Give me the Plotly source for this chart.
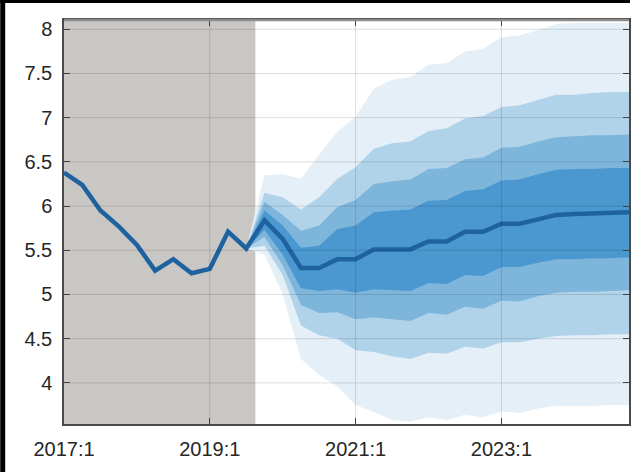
import plotly.graph_objects as go

# quarterly periods 2017:1 .. 2024:4
quarters = [f"{y}:{q}" for y in range(2017, 2025) for q in range(1, 5)]

history = [6.38, 6.24, 5.95, 5.77, 5.56, 5.27, 5.40, 5.24, 5.29, 5.71, 5.52]

# forecast starts at the last observed quarter (2019:3)
median = [5.52, 5.84, 5.63, 5.30, 5.30, 5.40, 5.40, 5.51, 5.51, 5.51, 5.60,
          5.60, 5.71, 5.71, 5.80, 5.80, 5.85, 5.90, 5.91, 5.92, 5.92, 5.93]

band1_hi = [5.52, 5.95, 5.78, 5.53, 5.55, 5.74, 5.78, 5.93, 5.95, 5.96, 6.06,
            6.07, 6.17, 6.19, 6.29, 6.30, 6.36, 6.41, 6.42, 6.42, 6.43, 6.43]
band1_lo = [5.52, 5.73, 5.45, 5.07, 5.04, 5.06, 5.02, 5.06, 5.05, 5.04, 5.13,
            5.12, 5.22, 5.21, 5.31, 5.31, 5.36, 5.40, 5.40, 5.41, 5.41, 5.42]
band2_hi = [5.52, 6.05, 5.90, 5.72, 5.78, 5.99, 6.07, 6.25, 6.28, 6.30, 6.42,
            6.43, 6.53, 6.55, 6.66, 6.67, 6.73, 6.78, 6.79, 6.80, 6.80, 6.81]
band2_lo = [5.52, 5.65, 5.33, 4.88, 4.79, 4.80, 4.72, 4.74, 4.72, 4.70, 4.79,
            4.77, 4.86, 4.84, 4.93, 4.92, 4.98, 5.02, 5.03, 5.03, 5.04, 5.05]
band3_hi = [5.52, 6.15, 6.10, 5.96, 6.10, 6.31, 6.44, 6.65, 6.71, 6.73, 6.85,
            6.88, 6.99, 7.02, 7.12, 7.14, 7.20, 7.26, 7.26, 7.28, 7.29, 7.29]
band3_lo = [5.52, 5.55, 5.22, 4.65, 4.54, 4.50, 4.37, 4.35, 4.30, 4.27, 4.34,
            4.33, 4.41, 4.39, 4.46, 4.46, 4.50, 4.53, 4.54, 4.54, 4.55, 4.55]
band4_hi = [5.52, 6.35, 6.36, 6.31, 6.58, 6.84, 7.01, 7.33, 7.43, 7.46, 7.60,
            7.62, 7.75, 7.78, 7.91, 7.93, 7.99, 8.06, 8.07, 8.07, 8.07, 8.07]
band4_lo = [5.52, 5.45, 5.00, 4.27, 4.09, 3.96, 3.75, 3.67, 3.58, 3.56, 3.61,
            3.58, 3.64, 3.61, 3.68, 3.66, 3.71, 3.74, 3.74, 3.74, 3.75, 3.75]

x_tick_labels = ["2017:1", "2019:1", "2021:1", "2023:1"]
y_ticks = [4, 4.5, 5, 5.5, 6, 6.5, 7, 7.5, 8]
y_tick_labels = ["4", "4.5", "5", "5.5", "6", "6.5", "7", "7.5", "8"]

BAND_COLORS = ["#E4EFF7", "#B1D3EA", "#7EB5DB", "#4A98CF"]
LINE_COLOR = "#1F62A0"
SHADE = "#C9C7C4"
GRID = "rgba(0,0,0,0.13)"
AXIS = "#4a4a4a"

start = len(history) - 1
fx = list(range(start, start + len(median)))
x_all = list(range(len(history) + len(median) - 1))
x_ticks = [quarters.index(t) for t in x_tick_labels]

fig = go.Figure()

bands = [(band4_lo, band4_hi), (band3_lo, band3_hi), (band2_lo, band2_hi), (band1_lo, band1_hi)]
for (lo, hi), col in zip(bands, BAND_COLORS):
    fig.add_trace(go.Scatter(
        x=fx + fx[::-1], y=hi + lo[::-1],
        fill="toself", fillcolor=col, mode="none", hoverinfo="skip",
        showlegend=False,
    ))

fig.add_trace(go.Scatter(
    x=x_all, y=history + median[1:], mode="lines",
    line=dict(color=LINE_COLOR, width=4.5), showlegend=False,
))

shapes = [
    # history shading
    dict(type="rect", xref="x", yref="paper", x0=0, x1=start + 0.5, y0=0, y1=1,
         fillcolor=SHADE, line_width=0, layer="below"),
]
# grid drawn over the fan, like the original
for yv in y_ticks:
    shapes.append(dict(type="line", xref="paper", yref="y", x0=0, x1=1, y0=yv, y1=yv,
                       line=dict(color=GRID, width=1), layer="above"))
for xv in x_ticks[1:]:
    shapes.append(dict(type="line", xref="x", yref="paper", x0=xv, x1=xv, y0=0, y1=1,
                       line=dict(color=GRID, width=1), layer="above"))

# lighter top border of the box
shapes.append(dict(type="line", xref="paper", yref="paper", x0=0, x1=1, y0=1, y1=1,
                   line=dict(color="#8c8c8c", width=2.5), layer="above"))

# black frame on top/left of the image
W, H, L, T, B, R = 632, 472, 64, 20, 48, 1
pw, ph = W - L - R, H - T - B
shapes.append(dict(type="rect", xref="paper", yref="paper",
                   x0=-L / pw, x1=(-L + 5) / pw, y0=-B / ph, y1=(ph + T) / ph,
                   fillcolor="black", line_width=0))
shapes.append(dict(type="rect", xref="paper", yref="paper",
                   x0=-L / pw, x1=(W - L) / pw, y0=(ph + T - 3) / ph, y1=(ph + T) / ph,
                   fillcolor="black", line_width=0))

fig.update_layout(
    width=W, height=H,
    margin=dict(l=L, r=R, t=T, b=B),
    paper_bgcolor="white", plot_bgcolor="white",
    font=dict(family="Liberation Sans, Arial, sans-serif", size=20, color="#262626"),
    shapes=shapes,
    showlegend=False,
)
fig.update_xaxes(
    range=[0, len(quarters) - 1],
    tickvals=x_ticks, ticktext=x_tick_labels,
    ticks="inside", ticklen=6, tickcolor=AXIS,
    showline=True, linecolor=AXIS, linewidth=1.5, mirror="ticks",
    showgrid=False, zeroline=False, ticklabelstandoff=6,
)
fig.update_yaxes(
    range=[3.535, 8.105],
    tickvals=y_ticks, ticktext=y_tick_labels,
    ticks="inside", ticklen=6, tickcolor=AXIS,
    showline=True, linecolor=AXIS, linewidth=1.5, mirror="ticks",
    showgrid=False, zeroline=False, ticklabelstandoff=6,
)

fig.write_html("out.html", config={"displayModeBar": False},
               post_script="document.body.style.margin='0';")
